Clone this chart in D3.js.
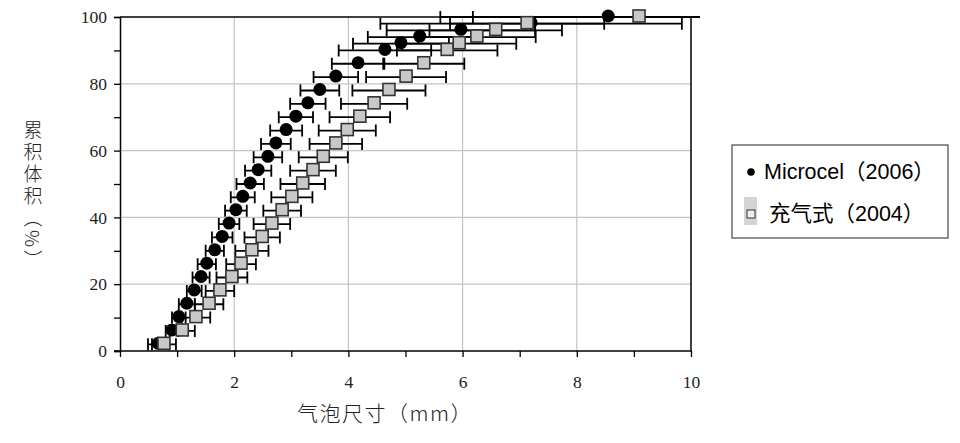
<!DOCTYPE html>
<html>
<head>
<meta charset="utf-8">
<script src="https://cdn.jsdelivr.net/npm/d3@7/dist/d3.min.js"></script>
<style>
  html, body { margin: 0; padding: 0; background: #fff; }
  svg { display: block; }
</style>
</head>
<body>
<svg id="chart" width="960" height="443"></svg>
<script>
// ---- data ----
const cumVolume = [2, 6, 10, 14, 18, 22, 26, 30, 34, 38, 42, 46, 50, 54, 58, 62, 66, 70, 74, 78, 82, 86, 90, 92, 94, 96, 98, 100];
const sizeMicrocel = [0.67, 0.91, 1.03, 1.17, 1.30, 1.42, 1.52, 1.66, 1.79, 1.91, 2.03, 2.15, 2.28, 2.42, 2.59, 2.73, 2.91, 3.08, 3.29, 3.50, 3.78, 4.17, 4.64, 4.92, 5.25, 5.97, 7.20, 8.55];
const errMicrocel  = [0.18, 0.11, 0.12, 0.14, 0.13, 0.15, 0.16, 0.16, 0.18, 0.18, 0.19, 0.21, 0.24, 0.23, 0.25, 0.26, 0.28, 0.30, 0.31, 0.34, 0.39, 0.46, 0.81, 0.84, 0.91, 1.30, 2.64, 2.94];
const sizeInflated = [0.77, 1.09, 1.33, 1.56, 1.75, 1.96, 2.12, 2.31, 2.49, 2.66, 2.84, 3.01, 3.20, 3.38, 3.56, 3.78, 3.98, 4.20, 4.45, 4.71, 5.01, 5.32, 5.73, 5.94, 6.25, 6.58, 7.13, 9.09];
const errInflated  = [0.21, 0.22, 0.25, 0.25, 0.25, 0.27, 0.26, 0.29, 0.31, 0.32, 0.33, 0.36, 0.39, 0.40, 0.43, 0.46, 0.50, 0.53, 0.58, 0.64, 0.70, 0.71, 0.88, 1.00, 1.03, 1.16, 1.35, 2.91];
const seriesNames = ["Microcel（2006）", "充气式（2004）"];
const xTicks = [0, 1, 2, 3, 4, 5, 6, 7, 8, 9, 10];
const yTicks = [0, 10, 20, 30, 40, 50, 60, 70, 80, 90, 100];
const xTitle = "气泡尺寸（mm）";
const yTitle = "累积体积（%）";

// ---- layout ----
const L = 120, R = 691, T = 17, B = 351;
const svg = d3.select("#chart");
const x = d3.scaleLinear().domain([0, 10]).range([L, R]);
const y = d3.scaleLinear().domain([0, 100]).range([B, T]);

const serifFont = "'Liberation Serif', 'DejaVu Serif', serif";
const cjkFont = "'Noto Sans CJK SC', sans-serif";
const legendFont = "'Liberation Sans', 'Noto Sans CJK SC', sans-serif";

// gridlines
const grid = svg.append("g");
grid.selectAll("line.v").data([2, 4, 6, 8]).join("line")
  .attr("x1", d => x(d)).attr("x2", d => x(d)).attr("y1", T).attr("y2", B)
  .attr("stroke", "#c4c4c4").attr("stroke-width", 1.2);
grid.selectAll("line.h").data([20, 40, 60, 80]).join("line")
  .attr("x1", L).attr("x2", R).attr("y1", d => y(d)).attr("y2", d => y(d))
  .attr("stroke", "#c4c4c4").attr("stroke-width", 1.2);

// frame top/right
svg.append("line").attr("x1", L).attr("x2", R).attr("y1", T).attr("y2", T)
  .attr("stroke", "#000").attr("stroke-width", 1.5);
svg.append("line").attr("x1", R).attr("x2", R).attr("y1", T).attr("y2", B)
  .attr("stroke", "#000").attr("stroke-width", 1.5);

// axes
const xAxis = svg.append("g").attr("transform", `translate(0,${B})`)
  .call(d3.axisBottom(x).tickValues(xTicks).tickSize(6).tickPadding(19)
    .tickFormat(d => d % 2 === 0 ? d : ""));
const yAxis = svg.append("g").attr("transform", `translate(${L},0)`)
  .call(d3.axisLeft(y).tickValues(yTicks).tickSize(6).tickPadding(7)
    .tickFormat(d => d % 20 === 0 ? d : ""));
[xAxis, yAxis].forEach(g => {
  g.select(".domain").attr("stroke", "#000").attr("stroke-width", 1.5);
  g.selectAll(".tick line").attr("stroke", "#000").attr("stroke-width", 1.3);
  g.selectAll(".tick text").attr("font-family", serifFont).attr("font-size", 17.5)
    .attr("fill", "#222");
});
xAxis.select(".domain").attr("d", `M${L - 6},0H${R + 0.5}`);

// clip for error bars
svg.append("clipPath").attr("id", "clip").append("rect")
  .attr("x", L - 10).attr("y", 0).attr("width", 700 - L + 10).attr("height", 443);

function drawSeries(sizes, errs, kind) {
  const data = sizes.map((s, i) => ({ s, e: errs[i], p: cumVolume[i] }));
  const g = svg.append("g");
  const eb = g.append("g").attr("clip-path", "url(#clip)")
    .attr("stroke", "#000").attr("stroke-width", 1.8).attr("fill", "none");
  eb.selectAll("path").data(data).join("path")
    .attr("d", d => {
      const x0 = x(d.s - d.e), x1 = x(d.s + d.e), yy = y(d.p);
      return `M${x0},${yy}H${x1}M${x0},${yy - 6}V${yy + 6}M${x1},${yy - 6}V${yy + 6}`;
    });
  if (kind === "circle") {
    g.selectAll("circle").data(data).join("circle")
      .attr("cx", d => x(d.s)).attr("cy", d => y(d.p) - 1).attr("r", 6.5)
      .attr("fill", "#000");
  } else {
    g.selectAll("rect").data(data).join("rect")
      .attr("x", d => x(d.s) - 6).attr("y", d => y(d.p) - 7).attr("width", 12).attr("height", 12)
      .attr("fill", "#c8c8c8").attr("stroke", "#333").attr("stroke-width", 1.6);
  }
}
drawSeries(sizeMicrocel, errMicrocel, "circle");
drawSeries(sizeInflated, errInflated, "square");

// axis titles
svg.append("text").attr("x", 385).attr("y", 421).attr("text-anchor", "middle")
  .attr("font-family", cjkFont).attr("font-size", 21).attr("font-weight", 300)
  .attr("letter-spacing", 1.5)
  .attr("fill", "#222").text(xTitle);
svg.append("text").attr("x", 33).attr("y", 120)
  .attr("font-family", cjkFont).attr("font-size", 19).attr("font-weight", 300)
  .attr("fill", "#222").attr("letter-spacing", 3)
  .style("writing-mode", "vertical-rl").text(yTitle);

// legend
const lg = svg.append("g");
lg.append("rect").attr("x", 732).attr("y", 145).attr("width", 216).attr("height", 93)
  .attr("fill", "#fff").attr("stroke", "#555").attr("stroke-width", 1.3);
lg.append("circle").attr("cx", 751).attr("cy", 172).attr("r", 3.8).attr("fill", "#000");
lg.append("rect").attr("x", 744).attr("y", 197).attr("width", 13).attr("height", 28).attr("fill", "#d4d4d4");
lg.append("rect").attr("x", 747).attr("y", 210).attr("width", 8).attr("height", 8)
  .attr("fill", "#eee").attr("stroke", "#333").attr("stroke-width", 1);
lg.append("text").attr("x", 764).attr("y", 179)
  .attr("font-family", legendFont).attr("font-size", 21.5)
  .attr("fill", "#000").text(seriesNames[0]);
lg.append("text").attr("x", 769).attr("y", 221)
  .attr("font-family", legendFont).attr("font-size", 21.5)
  .attr("fill", "#000").text(seriesNames[1]);
</script>
</body>
</html>
